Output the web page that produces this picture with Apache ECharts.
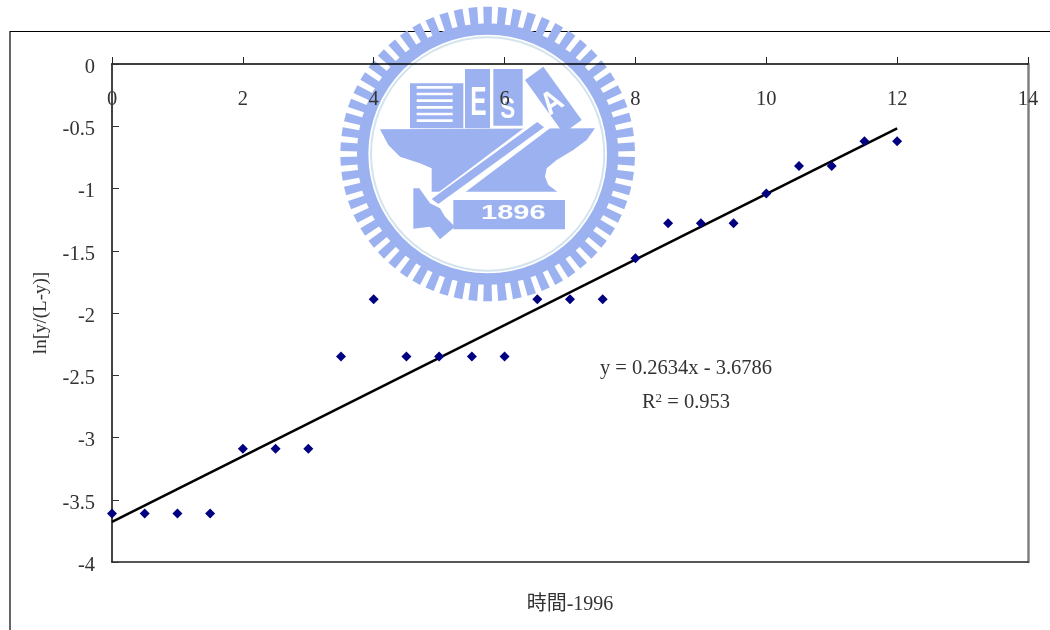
<!DOCTYPE html>
<html>
<head>
<meta charset="utf-8">
<style>
html, body { margin: 0; padding: 0; background: #fff; }
#chart { width: 1050px; height: 630px; }
</style>
<script src="https://cdn.jsdelivr.net/npm/echarts@6/dist/echarts.min.js"></script>
</head>
<body>
<div id="chart"></div>
<script>
const xValues = [0, 0.5, 1, 1.5, 2, 2.5, 3, 3.5, 4, 4.5, 5, 5.5, 6, 6.5, 7, 7.5, 8, 8.5, 9, 9.5, 10, 10.5, 11, 11.5, 12];
const yValues = [-3.61, -3.61, -3.61, -3.61, -3.09, -3.09, -3.09, -2.35, -1.89, -2.35, -2.35, -2.35, -2.35, -1.89, -1.89, -1.89, -1.56, -1.28, -1.28, -1.28, -1.04, -0.82, -0.82, -0.62, -0.62];
const trendX = [0, 12];
const trendY = [-3.6786, -0.5178];
const xTitle = '時間-1996';
const yTitle = 'ln[y/(L-y)]';
const equation = 'y = 0.2634x - 3.6786';

const FONT = '"Liberation Serif", "Noto Sans CJK TC", serif';
const TEXT = '#333333';
const LOGO = '#9cb1f0';

// watermark seal, in 3x crop coordinates (the group scales it down)
const CX = 473, CY = 462;

function logoTeeth() {
    const teeth = [];
    for (let i = 0; i < 62; i++) {
        const a = (i + 0.5) * Math.PI / 31;
        const w = 0.03;
        const p = (r, d) => [CX + r * Math.cos(a + d), CY + r * Math.sin(a + d)];
        teeth.push({
            type: 'polygon',
            shape: { points: [p(380, -w), p(442, -w), p(442, w), p(380, w)] },
            style: { fill: LOGO }
        });
    }
    return teeth;
}

function poly(points, fill) {
    return { type: 'polygon', shape: { points: points }, style: { fill: fill } };
}

function box(x, y, width, height, fill) {
    return { type: 'rect', shape: { x: x, y: y, width: width, height: height }, style: { fill: fill } };
}

function logoLetter(text, x, y, size, rotation, scaleX) {
    return {
        type: 'text', x: x, y: y, rotation: rotation || 0, scaleX: scaleX || 1,
        style: { text: text, fill: '#ffffff', font: 'bold ' + size + 'px "Liberation Sans", sans-serif', textAlign: 'center', textVerticalAlign: 'middle' }
    };
}

const logoParts = [
    { type: 'ring', shape: { cx: CX, cy: CY, r: 392, r0: 358 }, style: { fill: LOGO } },
    { type: 'ring', shape: { cx: CX, cy: CY, r: 353, r0: 347 }, style: { fill: '#d3e4ee' } },
    ...logoTeeth(),
    box(240, 250, 160, 135, LOGO),
    box(260, 258, 108, 8, '#ffffff'), box(260, 278, 108, 8, '#ffffff'), box(260, 298, 108, 8, '#ffffff'),
    box(260, 318, 108, 8, '#ffffff'), box(260, 338, 108, 8, '#ffffff'), box(260, 358, 108, 8, '#ffffff'),
    box(405, 207, 75, 178, LOGO),
    box(490, 207, 88, 170, LOGO),
    poly([[585, 240], [640, 200], [755, 360], [700, 400]], LOGO),
    logoLetter('E', 445, 312, 122, 0, 0.6),
    logoLetter('S', 533, 328, 90, 0, 0.75),
    logoLetter('A', 668, 310, 95, 0.6, 0.85),
    poly([[150, 388], [795, 385], [770, 420], [730, 450], [680, 480], [650, 505], [645, 530], [655, 555], [682, 575],
        [305, 575], [305, 505], [270, 490], [210, 470], [175, 435]], LOGO),
    poly([[625, 352], [660, 385], [335, 630], [295, 600]], '#ffffff'),
    poly([[622, 366], [642, 382], [325, 612], [305, 597]], LOGO),
    box(370, 600, 335, 88, LOGO),
    poly([[250, 565], [268, 565], [300, 610], [330, 625], [345, 650], [375, 680], [330, 718], [300, 680], [250, 686]], LOGO),
    logoLetter('1896', 550, 642, 58, 0, 1.5)
];

const chart = echarts.init(document.getElementById('chart'), null, { renderer: 'canvas' });

chart.setOption({
    animation: false,
    backgroundColor: '#ffffff',
    textStyle: { fontFamily: FONT },
    grid: { left: 112, right: 22, top: 64, bottom: 68, containLabel: false },
    graphic: [
        { type: 'group', x: 330, y: 0, scaleX: 1 / 3, scaleY: 1 / 3, z: -10, silent: true, children: logoParts },
        { type: 'polyline', z: -5, silent: true, shape: { points: [[1050, 31.5], [10, 31.5], [10, 630]] }, style: { stroke: '#000000', lineWidth: 1.2, fill: null } },
        {
            type: 'text', x: 686, y: 369, z: 20,
            style: { text: equation, fill: TEXT, font: '20.5px ' + FONT, textAlign: 'center', textVerticalAlign: 'middle' }
        },
        {
            type: 'text', x: 686, y: 403, z: 20,
            style: {
                text: '{b|R}{s|2}{b| = 0.953}', fill: TEXT, textAlign: 'center', textVerticalAlign: 'middle',
                rich: {
                    b: { font: '20.5px ' + FONT, fill: TEXT },
                    s: { font: '13px ' + FONT, fill: TEXT, verticalAlign: 'top', padding: [0, 0, 8, 0] }
                }
            }
        }
    ],
    xAxis: [
        {
            type: 'value', position: 'top', min: 0, max: 14, interval: 2,
            axisLine: { show: true, lineStyle: { color: '#000000', width: 1.5 } },
            axisTick: { show: true, length: 7, lineStyle: { color: '#222222', width: 1 } },
            axisLabel: { inside: true, margin: 25, fontSize: 20.5, color: TEXT, fontFamily: FONT, showMinLabel: true, showMaxLabel: true, hideOverlap: false },
            splitLine: { show: false }
        },
        {
            type: 'value', position: 'bottom', min: 0, max: 14, interval: 2,
            name: xTitle, nameLocation: 'middle', nameGap: 33,
            nameTextStyle: { fontSize: 20, color: TEXT, fontFamily: FONT },
            axisLine: { show: true, onZero: false, lineStyle: { color: '#222222', width: 1.5 } },
            axisTick: { show: false }, axisLabel: { show: false }, splitLine: { show: false }
        }
    ],
    yAxis: [
        {
            type: 'value', position: 'left', min: -4, max: 0, interval: 0.5,
            name: yTitle, nameLocation: 'middle', nameGap: 61, nameRotate: 90,
            nameTextStyle: { fontSize: 19, color: TEXT, fontFamily: FONT },
            axisLine: { show: true, onZero: false, lineStyle: { color: '#444444', width: 2 } },
            axisTick: { show: true, inside: true, length: 7, lineStyle: { color: '#333333', width: 1 } },
            axisLabel: {
                margin: 17, color: TEXT,
                formatter: (v) => '{a|' + v + '}',
                rich: { a: { fontSize: 20.5, fontFamily: FONT, color: TEXT, padding: [7, 0, 0, 0] } }
            },
            splitLine: { show: false }
        },
        {
            type: 'value', position: 'right', min: -4, max: 0, interval: 0.5,
            axisLine: { show: true, onZero: false, lineStyle: { color: '#808080', width: 2.5 } },
            axisTick: { show: false }, axisLabel: { show: false }, splitLine: { show: false }
        }
    ],
    series: [
        {
            type: 'line', xAxisIndex: 0, yAxisIndex: 0,
            data: trendX.map((x, i) => [x, trendY[i]]),
            symbol: 'none', clip: false,
            lineStyle: { color: '#000000', width: 2.5 }, z: 3
        },
        {
            type: 'scatter', xAxisIndex: 0, yAxisIndex: 0,
            data: xValues.map((x, i) => [x, yValues[i]]),
            symbol: 'diamond', symbolSize: 10, clip: false,
            itemStyle: { color: '#000080', opacity: 1 }, z: 4
        }
    ]
});
</script>
</body>
</html>
